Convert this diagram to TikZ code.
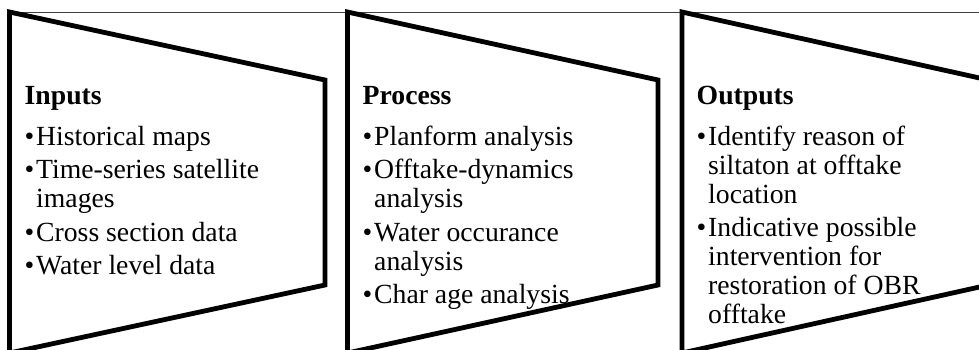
\documentclass[tikz,border=0pt]{standalone}
\usepackage{fontspec}
\setmainfont{Liberation Serif}
\newcommand{\mybul}{\makebox[11.5pt][l]{•}}
\newcommand{\myind}{\hspace*{11.5pt}}
\begin{document}
\begin{tikzpicture}[x=1pt,y=-1pt,
  trap/.style={draw=black,line width=4.8pt,line join=miter},
  topline/.style={draw=black!75,line width=1pt},
  txt/.style={anchor=north west,inner sep=0pt,align=left,
    font=\fontsize{27.7}{29}\selectfont}]
\useasboundingbox (0,0) rectangle (979,349);
\clip (0,0) rectangle (979,349);
% thin top line
\draw[topline] (9.5,12) -- (979,12);
% trapezoids
\draw[trap] (9.5,12) -- (325,80) -- (325,285) -- (9.5,353) -- cycle;
\draw[trap] (347.5,12) -- (658,80) -- (658,285) -- (347.5,353) -- cycle;
\draw[trap] (682,12) -- (984,79) -- (984,286) -- (682,353) -- cycle;
% texts
\node[txt] (inputs) at (24.5,84) {\rule{0pt}{20pt}\textbf{Inputs}\\[12pt]
\mybul Historical maps\\[4.5pt]
\mybul Time-series satellite\\
\myind images\\[4.5pt]
\mybul Cross section data\\[4.5pt]
\mybul Water level data};
\node[txt] (process) at (362.5,84) {\rule{0pt}{20pt}\textbf{Process}\\[12pt]
\mybul Planform analysis\\[4.5pt]
\mybul Offtake-dynamics\\
\myind analysis\\[4.5pt]
\mybul Water occurance\\
\myind analysis\\[4.5pt]
\mybul Char age analysis};
\node[txt] (outputs) at (696.5,84) {\rule{0pt}{20pt}\textbf{Outputs}\\[12pt]
\mybul Identify reason of\\
\myind siltaton at offtake\\
\myind location\\[4.5pt]
\mybul Indicative possible\\
\myind intervention for\\
\myind restoration of OBR\\
\myind offtake};
\end{tikzpicture}
\end{document}
